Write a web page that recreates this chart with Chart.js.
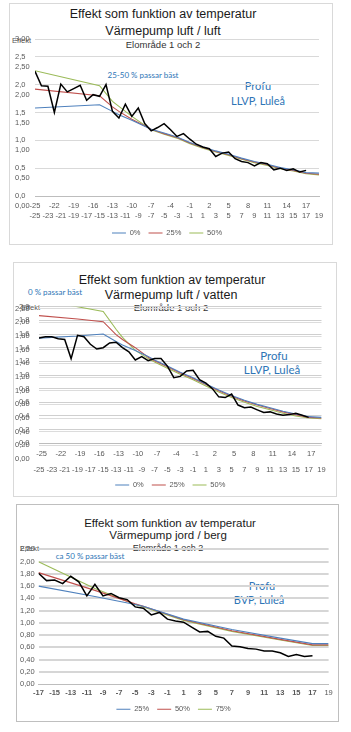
<!DOCTYPE html>
<html>
<head>
<meta charset="utf-8">
<script src="https://cdn.jsdelivr.net/npm/chart.js@4.4.1/dist/chart.umd.min.js"></script>
<style>
  body { margin: 0; width: 351px; height: 732px; position: relative; overflow: hidden; background: #fff;
         font-family: "Liberation Sans", Arial, sans-serif; }
  .frame { position: absolute; box-sizing: border-box; border: 1px solid #d9d9d9; }
  .txt { position: absolute; white-space: nowrap; transform: translate(-50%, -50%); line-height: 1; color: #1a1a1a; }
  .lbl { position: absolute; white-space: nowrap; transform: translateY(-50%); line-height: 1; font-size: 7.5px; color: #595959; }
  .note { font-family: Lato, "Open Sans", sans-serif; color: #2e75b6; }
  canvas { position: absolute; z-index: 2; }
</style>
</head>
<body>

<div class="frame" style="left:9px;top:3px;width:324px;height:242px"></div>
<div class="frame" style="left:13px;top:262px;width:324px;height:235px"></div>
<div class="frame" style="left:16px;top:504px;width:323px;height:218px;border-color:#bfbfbf"></div>

<!-- panel 1 texts -->
<div class="txt" style="left:163px;top:14px;font-size:12.5px">Effekt som funktion av temperatur</div>
<div class="txt" style="left:163px;top:31px;font-size:12.5px">Värmepump luft / luft</div>
<div class="txt" style="left:163px;top:45px;font-size:9.5px;color:#333">Elområde 1 och 2</div>
<div class="lbl" style="left:12px;top:41px">Effekt</div>
<div class="txt note" style="left:143px;top:75px;font-size:8px">25-50 % passar bäst</div>
<div class="txt note" style="left:258px;top:85px;font-size:11px">Profu</div>
<div class="txt note" style="left:258px;top:100px;font-size:11px">LLVP, Luleå</div>

<!-- panel 2 texts -->
<div class="txt" style="left:172px;top:280px;font-size:12.5px">Effekt som funktion av temperatur</div>
<div class="txt" style="left:171px;top:295px;font-size:12.5px">Värmepump luft / vatten</div>
<div class="txt" style="left:171px;top:308px;font-size:9.5px;color:#333">Elområde 1 och 2</div>
<div class="lbl" style="left:21px;top:308px">Effekt</div>
<div class="txt note" style="left:55px;top:292px;font-size:8px">0 % passar bäst</div>
<div class="txt note" style="left:274px;top:356px;font-size:11.5px">Profu</div>
<div class="txt note" style="left:272px;top:370px;font-size:11.5px">LLVP, Luleå</div>

<!-- panel 3 texts -->
<div class="txt" style="left:170px;top:524px;font-size:11.5px">Effekt som funktion av temperatur</div>
<div class="txt" style="left:168px;top:536px;font-size:11.5px">Värmepump jord / berg</div>
<div class="txt" style="left:168px;top:548px;font-size:9px;color:#333">Elområde 1 och 2</div>
<div class="lbl" style="left:20px;top:549px">Effekt</div>
<div class="txt note" style="left:90px;top:556px;font-size:8px">ca 50 % passar bäst</div>
<div class="txt note" style="left:262px;top:585px;font-size:11px">Profu</div>
<div class="txt note" style="left:259px;top:599px;font-size:11px">BVP, Luleå</div>

<canvas id="c1" width="324" height="250" style="left:9px;top:3px"></canvas>
<canvas id="c2" width="324" height="240" style="left:13px;top:262px"></canvas>
<canvas id="c3" width="323" height="222" style="left:16px;top:504px"></canvas>

<script>
// ---- panel 1: värmepump luft / luft ----
const p1Temps = [-25,-24,-23,-22,-21,-20,-19,-18,-17,-16,-15,-14,-13,-12,-11,-10,-9,-8,-7,-6,-5,-4,-3,-2,-1,0,1,2,3,4,5,6,7,8,9,10,11,12,13,14,15,16,17];
const p1Measured = [2.24,1.98,1.97,1.50,2.01,1.87,1.93,1.99,1.72,1.82,1.79,2.00,1.52,1.40,1.65,1.43,1.58,1.30,1.17,1.23,1.30,1.19,1.07,1.12,1.02,0.93,0.88,0.85,0.71,0.77,0.79,0.67,0.62,0.60,0.54,0.60,0.58,0.47,0.50,0.46,0.49,0.43,0.46];
const p1CurveTemps = [-25,-15,-13,-12,-10,-7,-5,-3,-1,1,3,5,7,9,11,13,15,17,19];
const p1Curve0  = [1.58,1.64,1.52,1.46,1.36,1.20,1.13,1.06,0.96,0.88,0.81,0.75,0.68,0.62,0.57,0.51,0.47,0.42,0.41];
const p1Curve25 = [1.92,1.80,1.60,1.52,1.38,1.20,1.12,1.05,0.95,0.87,0.80,0.74,0.67,0.61,0.56,0.50,0.46,0.41,0.39];
const p1Curve50 = [2.25,1.98,1.70,1.61,1.43,1.19,1.11,1.04,0.94,0.86,0.79,0.73,0.66,0.60,0.55,0.49,0.45,0.40,0.38];
const p1XTicks  = [-25,-22,-19,-16,-13,-10,-7,-4,-1,2,5,8,11,14,17];
const p1XTicks2 = [-25,-23,-21,-19,-17,-15,-13,-11,-9,-7,-5,-3,-1,1,3,5,7,9,11,13,15,17,19];
const p1YTicks  = [0,0.5,1,1.5,2,2.5];
const p1YTicks2 = [0,0.5,1,1.5,2,2.5,3];

// ---- panel 2: värmepump luft / vatten ----
const p2Temps = p1Temps;
const p2Measured = [1.54,1.56,1.56,1.53,1.52,1.24,1.58,1.56,1.45,1.38,1.40,1.47,1.48,1.40,1.34,1.22,1.27,1.21,1.24,1.24,1.13,0.96,0.98,1.06,1.07,0.93,0.88,0.80,0.68,0.67,0.72,0.56,0.52,0.53,0.49,0.45,0.46,0.43,0.41,0.42,0.44,0.41,0.38];
const p2CurveTemps = [-25,-19,-15,-13,-12,-10,-8,-7,-5,-3,-1,1,3,5,7,9,11,13,15,17,19];
const p2Curve0  = [1.54,1.57,1.60,1.49,1.44,1.36,1.27,1.22,1.13,1.04,0.96,0.87,0.78,0.70,0.63,0.57,0.52,0.47,0.43,0.39,0.38];
const p2Curve25 = [1.87,1.82,1.78,1.59,1.52,1.40,1.26,1.21,1.12,1.03,0.95,0.86,0.77,0.69,0.62,0.56,0.51,0.46,0.42,0.38,0.37];
const p2Curve50 = [2.10,2.00,1.93,1.67,1.55,1.36,1.24,1.19,1.10,1.01,0.93,0.84,0.75,0.67,0.60,0.54,0.49,0.44,0.40,0.37,0.36];
const p2XTicks  = p1XTicks;
const p2XTicks2 = p1XTicks2;
const p2YTicks  = [0,0.2,0.4,0.6,0.8,1.0,1.2,1.4,1.6,1.8,2.0];
const p2YTicks2 = [0,0.2,0.4,0.6,0.8,1.0,1.2,1.4,1.6,1.8,2.0,2.2];

// ---- panel 3: värmepump jord / berg ----
const p3Temps = [-17,-16,-15,-14,-13,-12,-11,-10,-9,-8,-7,-6,-5,-4,-3,-2,-1,0,1,2,3,4,5,6,7,8,9,10,11,12,13,14,15,16,17];
const p3Measured = [1.81,1.69,1.70,1.64,1.76,1.67,1.44,1.63,1.44,1.48,1.41,1.38,1.26,1.24,1.13,1.17,1.06,1.03,1.01,0.93,0.85,0.86,0.78,0.75,0.62,0.61,0.58,0.57,0.54,0.54,0.51,0.45,0.48,0.45,0.46];
const p3CurveTemps = [-17,-10,-5,-4,1,7,13,17,19];
const p3Curve25 = [1.60,1.43,1.30,1.27,1.06,0.89,0.75,0.66,0.66];
const p3Curve50 = [1.82,1.53,1.31,1.27,1.05,0.87,0.73,0.64,0.64];
const p3Curve75 = [2.00,1.56,1.30,1.26,1.04,0.86,0.72,0.63,0.63];
const p3XTicks = [-17,-15,-13,-11,-9,-7,-5,-3,-1,1,3,5,7,9,11,13,15,17,19];
const p3YTicks = [0,0.2,0.4,0.6,0.8,1.0,1.2,1.4,1.6,1.8,2.0,2.2];

const BLUE = '#4f81bd', RED = '#c0504d', OLIVE = '#9bbb59';
const GREY = '#595959';

Chart.defaults.font.family = "'Liberation Sans', Arial, sans-serif";

const comma = (v, d) => v.toFixed(d).replace('.', ',');
const xy = (xs, ys) => xs.map((x, i) => ({ x: x, y: ys[i] }));
const setTicks = list => s => { s.ticks = list.map(v => ({ value: v })); };

function lineSet(label, data, color, width, xAxisID) {
  return { label: label, data: data, borderColor: color, backgroundColor: color,
           borderWidth: width, pointRadius: 0, tension: 0, xAxisID: xAxisID || 'x' };
}

function legendOpts() {
  return {
    position: 'bottom',
    labels: {
      filter: item => item.datasetIndex > 0,
      usePointStyle: true, pointStyle: 'line', pointStyleWidth: 14,
      padding: 8, color: GREY, font: { size: 7.5 }
    }
  };
}

function xAxis(min, max, ticks, weight, height, pad, border, font) {
  return {
    type: 'linear', position: 'bottom', min: min, max: max, weight: weight,
    afterBuildTicks: setTicks(ticks),
    afterFit: s => { s.height = height; },
    grid: { display: false, drawTicks: false },
    border: border ? { display: true, color: '#bdbdbd', width: 1, dash: [1, 1] } : { display: false },
    ticks: { autoSkip: false, maxRotation: 0, padding: pad, color: GREY, font: font || { size: 7.5 } }
  };
}

// mirrored labels with a negative padding: left aligned outside the plot, not clipped
function yAxis(min, max, ticks, weight, width, pad, decimals, grid, blankTop) {
  return {
    type: 'linear', position: 'left', min: min, max: max, weight: weight,
    afterBuildTicks: setTicks(ticks),
    afterFit: s => { s.width = width; },
    grid: grid,
    border: { display: false },
    ticks: {
      autoSkip: false, mirror: true, padding: pad, color: GREY, font: { size: 7.5 },
      callback: v => (blankTop !== undefined && v === blankTop) ? '' : comma(v, decimals)
    }
  };
}

// panel 1
new Chart(document.getElementById('c1'), {
  type: 'line',
  data: { datasets: [
    lineSet('Uppmätt', xy(p1Temps, p1Measured), '#000', 1.5),
    lineSet('0%', xy(p1CurveTemps, p1Curve0), BLUE, 1.1),
    lineSet('25%', xy(p1CurveTemps, p1Curve25), RED, 1.1),
    lineSet('50%', xy(p1CurveTemps, p1Curve50), OLIVE, 1.1)
  ]},
  options: {
    responsive: false, animation: false,
    layout: { padding: { left: 6, right: 14, top: 36, bottom: 6.25 } },
    plugins: { legend: legendOpts(), tooltip: { enabled: false } },
    scales: {
      x: xAxis(-25, 19, p1XTicks, 0, 14, 5, true),
      x2: xAxis(-25, 19, p1XTicks2, 1, 11.25, 1, false),
      y: yAxis(0, 2.82, p1YTicks.concat([2.82]), 1, 20, -20, 1,
        { drawTicks: false, color: c => c.tick.value === 0 ? 'rgba(0,0,0,0)' : '#d9d9d9' }, 2.82),
      y2: yAxis(0.18, 3.0, p1YTicks2, 0, 0, -20, 2, { display: false, drawTicks: false })
    }
  }
});

// panel 2
new Chart(document.getElementById('c2'), {
  type: 'line',
  data: { datasets: [
    lineSet('Uppmätt', xy(p2Temps, p2Measured), '#000', 1.5, 'x2'),
    lineSet('0%', xy(p2CurveTemps, p2Curve0), BLUE, 1.1, 'x2'),
    lineSet('25%', xy(p2CurveTemps, p2Curve25), RED, 1.1, 'x2'),
    lineSet('50%', xy(p2CurveTemps, p2Curve50), OLIVE, 1.1, 'x2')
  ]},
  options: {
    responsive: false, animation: false,
    layout: { padding: { left: 6, right: 15.5, top: 44.7, bottom: 3.25 } },
    plugins: { legend: legendOpts(), tooltip: { enabled: false } },
    scales: {
      x: xAxis(-25.4, 18.6, p2XTicks, 0, 18, 6, true),
      x2: xAxis(-25, 19, p2XTicks2, 1, 11.95, 4.2, false),
      y: yAxis(0, 2.0, p2YTicks, 1, 20, -20, 1,
        { drawTicks: false, color: c => c.tick.value === 0 ? 'rgba(0,0,0,0)' : '#cfcfcf' }),
      y2: yAxis(0.23, 2.23, p2YTicks2, 0, 0, -24, 2,
        { drawTicks: false, color: c => c.tick.value < 0.1 ? 'rgba(0,0,0,0)' : '#dcdcdc' })
    }
  }
});

// panel 3
new Chart(document.getElementById('c3'), {
  type: 'line',
  data: { datasets: [
    lineSet('Uppmätt', xy(p3Temps, p3Measured), '#000', 1.5),
    lineSet('25%', xy(p3CurveTemps, p3Curve25), BLUE, 1.1),
    lineSet('50%', xy(p3CurveTemps, p3Curve50), RED, 1.1),
    lineSet('75%', xy(p3CurveTemps, p3Curve75), OLIVE, 1.1)
  ]},
  options: {
    responsive: false, animation: false,
    layout: { padding: { left: 2.5, right: 10.4, top: 45.4, bottom: 3 } },
    plugins: { legend: legendOpts(), tooltip: { enabled: false } },
    scales: {
      x: xAxis(-17, 19, p3XTicks, 0, 13.5, 4, true,
        c => ({ size: 7.5, weight: c.tick && c.tick.value === 19 ? 'normal' : 'bold' })),
      y: yAxis(0, 2.2, p3YTicks, 1, 20, -18.5, 2,
        { drawTicks: false, lineWidth: 2, color: c => c.tick.value === 0 ? 'rgba(0,0,0,0)' : '#d6d6d6' })
    }
  }
});
</script>
</body>
</html>
